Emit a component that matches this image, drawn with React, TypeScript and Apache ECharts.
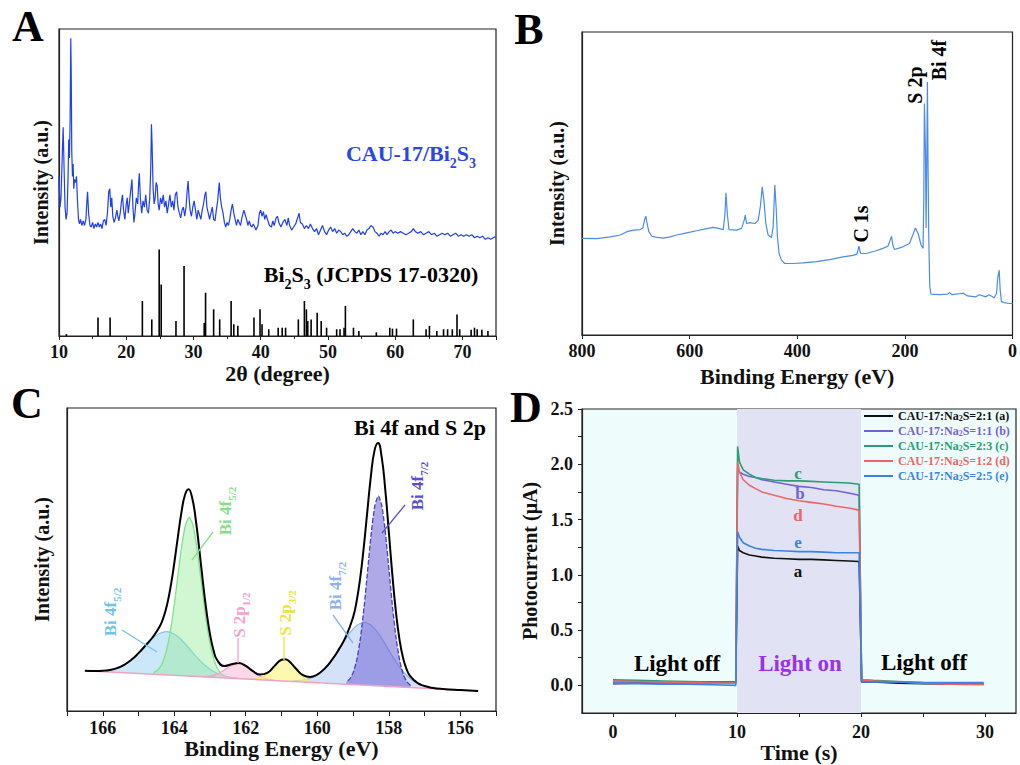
import React, { useEffect, useRef } from 'react';
import * as echarts from 'echarts';

const FF = "'Liberation Serif', 'Times New Roman', serif";

// ---------- Panel A: XRD ----------
const xrdSample: number[][] = [
  [10.0, 52], [10.15, 42], [10.3, 45], [10.5, 60], [10.62, 68], [10.75, 55], [10.9, 42], [11.05, 38], [11.2, 40], [11.35, 52],
  [11.45, 64], [11.55, 58], [11.65, 70], [11.75, 97], [11.82, 85], [11.9, 60], [12.0, 52], [12.1, 56], [12.2, 48], [12.3, 51],
  [12.45, 50], [12.6, 52], [12.75, 44], [12.9, 38], [13.05, 36.5], [13.2, 38], [13.4, 36], [13.6, 37.5], [13.8, 36], [14.0, 38],
  [14.15, 44], [14.25, 47], [14.4, 40], [14.6, 36], [14.8, 35.5], [15.0, 37], [15.2, 35], [15.4, 36.5], [15.6, 35.5], [15.8, 37],
  [16.0, 35.5], [16.2, 36.5], [16.4, 35], [16.6, 37.5], [16.8, 38], [17.0, 36], [17.2, 40], [17.4, 47], [17.55, 48], [17.7, 42],
  [17.85, 45], [18.0, 39], [18.2, 37], [18.4, 38.5], [18.6, 41], [18.75, 39], [18.9, 37.5], [19.1, 40], [19.3, 44], [19.45, 46],
  [19.6, 41], [19.8, 38], [20.0, 43], [20.15, 45], [20.3, 40], [20.5, 44], [20.7, 48], [20.85, 51], [21.0, 42], [21.15, 37],
  [21.3, 40], [21.5, 45], [21.7, 43], [21.85, 50], [21.95, 53], [22.1, 45], [22.3, 40], [22.5, 44], [22.7, 42], [22.9, 46],
  [23.1, 41], [23.3, 40], [23.5, 45], [23.65, 55], [23.75, 69], [23.85, 62], [24.0, 48], [24.15, 43], [24.3, 45], [24.45, 50],
  [24.6, 49], [24.75, 43], [24.9, 41], [25.1, 45], [25.3, 43], [25.5, 46], [25.7, 42], [25.9, 44], [26.1, 40], [26.3, 43],
  [26.5, 46], [26.7, 42], [26.9, 44], [27.1, 41], [27.3, 46], [27.5, 47], [27.7, 42], [27.9, 40], [28.1, 38.5], [28.3, 41],
  [28.5, 42], [28.7, 39], [28.9, 42], [29.05, 47], [29.2, 50.5], [29.35, 45], [29.5, 41], [29.7, 39], [29.9, 42], [30.1, 44],
  [30.3, 41], [30.5, 38], [30.7, 41], [30.9, 39.5], [31.1, 38], [31.3, 41], [31.5, 43], [31.7, 46], [31.85, 47], [32.0, 42],
  [32.2, 40], [32.4, 38], [32.6, 40], [32.8, 42], [33.0, 38], [33.2, 37.5], [33.4, 41], [33.6, 44], [33.75, 48], [33.85, 50],
  [34.0, 45], [34.2, 42], [34.4, 40], [34.6, 37], [34.8, 35.5], [35.0, 37], [35.2, 36], [35.4, 38], [35.6, 41], [35.8, 43],
  [36.0, 40], [36.2, 38], [36.4, 36], [36.6, 38], [36.8, 37], [37.0, 36], [37.2, 38.5], [37.5, 41], [37.7, 39.5], [37.9, 38],
  [38.1, 36], [38.3, 37.5], [38.5, 36], [38.7, 35.5], [38.9, 36.5], [39.1, 35.5], [39.3, 34.5], [39.6, 36], [39.8, 40], [40.0, 41],
  [40.2, 39], [40.4, 40.5], [40.6, 38], [40.8, 39.5], [41.0, 38], [41.3, 36], [41.6, 35.5], [41.8, 37.5], [42.0, 36], [42.3, 38.5],
  [42.5, 39], [42.7, 37], [43.0, 35.5], [43.3, 37], [43.6, 38], [43.9, 36], [44.1, 38.5], [44.3, 36], [44.6, 34.5], [44.9, 35.5],
  [45.2, 36.5], [45.5, 38.5], [45.7, 40], [45.9, 37], [46.2, 36.5], [46.5, 35], [46.8, 36], [47.1, 35], [47.4, 36.5], [47.7, 35],
  [48.0, 34], [48.3, 35], [48.6, 33], [48.9, 34.5], [49.2, 36], [49.5, 34], [49.8, 33], [50.1, 34.5], [50.4, 35.5], [50.7, 34],
  [51.0, 35], [51.3, 33.5], [51.6, 34.5], [51.9, 34], [52.2, 33], [52.5, 33.5], [52.8, 32.5], [53.1, 33], [53.4, 34], [53.7, 35],
  [54.0, 34], [54.3, 33.5], [54.6, 34.5], [54.9, 33], [55.2, 34], [55.5, 33], [55.8, 34.5], [56.1, 35], [56.4, 36], [56.7, 35.5],
  [57.0, 34], [57.3, 33.5], [57.6, 32.5], [57.9, 33.5], [58.2, 33], [58.5, 34], [58.8, 33], [59.1, 34], [59.4, 34.5], [59.7, 33.5],
  [60.0, 34], [60.4, 33.5], [60.8, 34], [61.2, 33.5], [61.6, 33], [62.0, 33.5], [62.4, 34], [62.7, 35], [63.0, 34], [63.4, 33.5],
  [63.8, 34], [64.2, 33], [64.6, 33.5], [65.0, 34], [65.4, 33], [65.8, 33.5], [66.2, 32.5], [66.6, 33], [67.0, 33.5], [67.4, 33],
  [67.8, 33.5], [68.2, 32.5], [68.6, 33], [69.0, 33.5], [69.4, 32.5], [69.8, 33], [70.2, 32.5], [70.6, 33], [71.0, 32.5], [71.4, 33],
  [71.8, 32], [72.2, 32.5], [72.6, 32], [73.0, 32.5], [73.4, 31.5], [73.8, 32], [74.2, 31.5], [74.6, 32], [75.0, 32.5],
];

const jcpdsSticks: number[][] = [
  [11.1, 0.6], [15.8, 6], [17.6, 6], [22.4, 11.4], [23.8, 5.4], [24.9, 28.2], [25.2, 16.8], [27.4, 4.9], [28.6, 22.8],
  [31.6, 4.3], [31.8, 14.1], [33.0, 8.7], [33.9, 5.4], [35.6, 11.4], [36.0, 3.8], [36.6, 3.3], [39.0, 6], [39.9, 8.7],
  [40.2, 3.8], [41.2, 2.2], [42.6, 2.7], [43.2, 2.7], [43.7, 2.7], [45.6, 5.4], [46.5, 11.4], [46.8, 8.7], [47.0, 4.9],
  [47.5, 5.4], [48.4, 7.6], [49.0, 4.9], [49.8, 2.7], [51.3, 2.2], [51.8, 2.2], [52.4, 2.7], [52.6, 9.8], [53.8, 2.7],
  [54.6, 1.6], [57.2, 1.2], [59.2, 2.7], [59.6, 2.4], [60.2, 2.4], [62.7, 5.4], [64.6, 2.2], [65.1, 3.3], [66.2, 1.6],
  [67.2, 2.2], [67.8, 2.2], [68.5, 2.2], [69.2, 7], [69.6, 2.2], [71.3, 2.0], [71.8, 2.7], [72.2, 2.2], [72.9, 2.0], [73.8, 1.6],
];

// ---------- Panel B: XPS survey ----------
const xpsSurvey: number[][] = [
  [800, 31.9], [772.2, 31.8], [747.5, 32.4], [729, 33.0], [716.6, 34.1], [704.2, 34.6], [691.9, 34.8], [686.9, 35.3],
  [683.9, 37.9], [681.4, 39.2], [679, 36.8], [675.8, 34.1], [670.3, 32.6], [661, 32.2], [648.6, 32.0], [636.3, 32.4],
  [623.9, 33.0], [605.4, 33.7], [586.9, 34.4], [568.3, 35.1], [556, 35.5], [546.7, 35.2], [537.4, 34.8], [534.3, 40.1],
  [532.5, 46.9], [530, 40.1], [526.9, 34.8], [512.7, 34.6], [503.4, 35.2], [498.5, 37.9], [496.6, 39.6], [494.1, 36.8],
  [488, 37.1], [478.7, 36.8], [472.5, 37.9], [468.2, 42.9], [465.1, 48.9], [462, 44.5], [458.4, 36.8], [454.1, 33.0],
  [447.9, 32.2], [444.8, 35.7], [441.7, 49.5], [439.3, 42.3], [436.8, 32.4], [433.7, 26.9], [429.4, 24.7], [423.2, 23.6],
  [407.7, 23.6], [389.2, 23.8], [364.4, 24.2], [339.7, 24.9], [315, 25.8], [296.4, 26.3], [289, 26.7], [285.4, 29.3],
  [282.3, 26.9], [271.8, 26.9], [253.3, 27.8], [240.9, 28.6], [231.6, 29.3], [227.3, 31.3], [224.8, 32.6], [222.4, 29.7],
  [219.3, 28.2], [203.8, 29.1], [191.5, 30.2], [185.3, 33.0], [180.4, 35.3], [175.4, 33.5], [169.9, 29.7], [166.2, 28.6],
  [164.9, 44.5], [163.7, 76.4], [161.8, 61], [160.6, 35.3], [159.4, 55.5], [158.1, 83.5], [156.9, 55.5], [155.7, 33.5],
  [153.8, 15.9], [151.4, 13.5], [135.9, 13.3], [120.5, 13.5], [117.3, 14.0], [112.4, 13.3], [95.7, 13.7], [91.4, 13.8],
  [83.4, 12.9], [68, 12.6], [61.8, 13.3], [49.4, 12.6], [43.3, 13.3], [34.1, 12.3], [29.7, 13.7], [27.2, 19.2],
  [24.7, 21.4], [22.9, 14.8], [20.5, 11.0], [15.5, 10.7], [6.2, 10.4], [0, 10.4],
];

// ---------- Panel C: Bi 4f / S 2p fit ([eV, background, component]) ----------
const fitBi52Broad: number[][] = [
  [162.2, 10.68, 0.12], [162.4, 10.80, 0.31], [162.6, 10.92, 0.69], [162.8, 11.05, 1.41], [163.0, 11.17, 2.61],
  [163.2, 11.29, 4.38], [163.4, 11.41, 6.71], [163.6, 11.53, 9.34], [163.8, 11.65, 11.84], [164.0, 11.78, 13.64],
  [164.2, 11.90, 14.3], [164.4, 12.02, 13.64], [164.6, 12.14, 11.84], [164.8, 12.26, 9.34], [165.0, 12.39, 6.71],
  [165.2, 12.51, 4.38], [165.4, 12.63, 2.61], [165.6, 12.75, 1.41], [165.8, 12.87, 0.69], [166.0, 12.99, 0.31], [166.2, 13.11, 0.12],
];
const fitBi52: number[][] = [
  [162.58, 10.91, 0.53], [162.68, 10.97, 1.27], [162.78, 11.03, 2.77], [162.88, 11.09, 5.52], [162.98, 11.15, 10.03],
  [163.08, 11.22, 16.62], [163.18, 11.28, 25.13], [163.28, 11.34, 34.67], [163.38, 11.40, 43.61], [163.48, 11.46, 50.05],
  [163.58, 11.52, 52.4], [163.68, 11.58, 50.05], [163.78, 11.64, 43.61], [163.88, 11.70, 34.67], [163.98, 11.76, 25.13],
  [164.08, 11.82, 16.62], [164.18, 11.88, 10.03], [164.28, 11.95, 5.52], [164.38, 12.01, 2.77], [164.48, 12.07, 1.27], [164.58, 12.13, 0.53],
];
const fitS12: number[][] = [
  [161.2, 10.07, 0.08], [161.4, 10.19, 0.37], [161.6, 10.31, 1.15], [161.8, 10.44, 2.6], [162.0, 10.56, 4.25], [162.2, 10.68, 5.0],
  [162.4, 10.80, 4.25], [162.6, 10.92, 2.6], [162.8, 11.05, 1.15], [163.0, 11.17, 0.37], [163.2, 11.29, 0.08],
];
const fitS32: number[][] = [
  [160.02, 9.35, 0.08], [160.17, 9.44, 0.32], [160.32, 9.53, 0.97], [160.47, 9.62, 2.34], [160.62, 9.72, 4.37], [160.77, 9.81, 6.35],
  [160.92, 9.90, 7.2], [161.07, 9.99, 6.35], [161.22, 10.08, 4.37], [161.37, 10.17, 2.34], [161.52, 10.26, 0.97], [161.67, 10.35, 0.32], [161.82, 10.45, 0.08],
];
const fitBi72Broad: number[][] = [
  [156.68, 7.32, 0.18], [156.88, 7.44, 0.45], [157.08, 7.56, 0.99], [157.28, 7.68, 2.03], [157.48, 7.81, 3.77], [157.68, 7.93, 6.33],
  [157.88, 8.05, 9.71], [158.08, 8.17, 13.52], [158.28, 8.29, 17.14], [158.48, 8.41, 19.75], [158.68, 8.54, 20.7], [158.88, 8.66, 19.75],
  [159.08, 8.78, 17.14], [159.28, 8.90, 13.52], [159.48, 9.02, 9.71], [159.68, 9.15, 6.33], [159.88, 9.27, 3.77], [160.08, 9.39, 2.03],
  [160.28, 9.51, 0.99], [160.48, 9.63, 0.45], [160.68, 9.75, 0.18],
];
const fitBi72: number[][] = [
  [157.39, 7.75, 0.70], [157.49, 7.81, 1.79], [157.59, 7.87, 4.12], [157.69, 7.93, 8.48], [157.79, 7.99, 15.61], [157.89, 8.05, 25.77],
  [157.99, 8.11, 38.03], [158.09, 8.17, 50.22], [158.19, 8.24, 59.31], [158.29, 8.30, 62.7], [158.39, 8.36, 59.31], [158.49, 8.42, 50.22],
  [158.59, 8.48, 38.03], [158.69, 8.54, 25.77], [158.79, 8.60, 15.61], [158.89, 8.66, 8.48], [158.99, 8.72, 4.12], [159.09, 8.78, 1.79], [159.19, 8.84, 0.70],
];
const fitBackground: number[][] = [[155.5, 6.6], [166.5, 13.3]];
const fitEnvelope: number[][] = [
  [155.5, 6.6], [156.0, 6.9], [156.5, 7.29], [156.8, 7.71], [157.0, 8.25], [157.2, 9.28], [157.4, 11.5], [157.5, 13.76],
  [157.6, 17.54], [157.7, 23.65], [157.8, 32.8], [157.9, 45.07], [158.0, 59.41], [158.1, 73.38], [158.2, 83.95], [158.3, 88.41],
  [158.4, 85.86], [158.5, 77.43], [158.6, 65.79], [158.7, 53.89], [158.8, 43.74], [158.9, 36.15], [159.0, 30.88], [159.2, 24.52],
  [159.4, 20.26], [159.6, 16.7], [159.8, 13.91], [160.0, 12.04], [160.2, 11.22], [160.4, 11.82], [160.6, 14.05], [160.8, 16.58],
  [160.9, 17.1], [161.0, 16.91], [161.2, 14.81], [161.4, 12.57], [161.6, 12.02], [161.8, 13.16], [162.0, 14.86], [162.2, 15.81],
  [162.4, 15.45], [162.6, 14.85], [162.8, 16.82], [162.9, 19.99], [163.0, 25.33], [163.1, 33.02], [163.2, 42.75], [163.3, 53.4],
  [163.4, 63.28], [163.5, 70.35], [163.6, 73.17], [163.7, 71.27], [163.8, 65.45], [163.9, 57.33], [164.0, 48.72], [164.1, 41.11],
  [164.2, 35.17], [164.3, 30.94], [164.4, 28.05], [164.6, 24.42], [164.8, 21.65], [165.0, 19.1], [165.2, 16.89], [165.4, 15.24],
  [165.6, 14.16], [165.8, 13.56], [166.0, 13.3], [166.2, 13.23], [166.5, 13.3],
];

// ---------- Panel D: photocurrent ----------
const timeS = [0, 2, 4, 6, 8, 9.9, 10.05, 10.2, 10.5, 11, 11.5, 12, 13, 14, 15, 16, 17, 18, 19, 19.85, 20.05, 21, 23, 25, 27, 29.9];
const curA = [0.015, 0.02, 0.025, 0.025, 0.03, 0.03, 1.26, 1.22, 1.2, 1.18, 1.17, 1.16, 1.15, 1.145, 1.14, 1.14, 1.135, 1.13, 1.125, 1.12, 0.03, 0.03, 0.02, 0.015, 0.012, 0.01];
const curB = [0.03, 0.03, 0.025, 0.02, 0.02, 0.02, 1.96, 1.93, 1.91, 1.89, 1.88, 1.86, 1.84, 1.82, 1.80, 1.79, 1.77, 1.76, 1.74, 1.72, 0.04, 0.035, 0.03, 0.02, 0.015, 0.01];
const curC = [0.05, 0.045, 0.04, 0.035, 0.03, 0.03, 2.16, 2.02, 1.95, 1.91, 1.88, 1.87, 1.855, 1.85, 1.85, 1.845, 1.84, 1.835, 1.83, 1.82, 0.05, 0.045, 0.035, 0.025, 0.02, 0.01];
const curD = [0.04, 0.035, 0.03, 0.025, 0.02, 0.02, 2.02, 1.93, 1.86, 1.81, 1.78, 1.75, 1.72, 1.69, 1.67, 1.655, 1.64, 1.62, 1.605, 1.585, 0.05, 0.04, 0.03, 0.02, 0.01, 0.005];
const curE = [0.02, 0.015, 0.01, 0.01, 0.005, 0.0, 1.39, 1.34, 1.29, 1.26, 1.24, 1.23, 1.22, 1.215, 1.21, 1.21, 1.205, 1.2, 1.2, 1.2, 0.03, 0.03, 0.03, 0.025, 0.025, 0.025];
const dNames = ['CAU-17:Na2S=2:1 (a)', 'CAU-17:Na2S=1:1 (b)', 'CAU-17:Na2S=2:3 (c)', 'CAU-17:Na2S=1:2 (d)', 'CAU-17:Na2S=2:5 (e)'];
const dColors = ['#111111', '#7262d6', '#2a9d72', '#f06464', '#3a82e8'];
const dCurves = [curA, curB, curC, curD, curE];
const dTags = ['a', 'b', 'c', 'd', 'e'];
const yTicksD = [0, 0.5, 1, 1.5, 2, 2.5];
const xTicksD = [0, 10, 20, 30];

// ---------- helpers ----------
const richSub = (fs: number, color: string) => ({
  n: { fontSize: fs, fontWeight: 'bold', fontFamily: FF, fill: color, verticalAlign: 'bottom', padding: [0, 0, Math.round(fs * 0.25), 0] },
  s: { fontSize: Math.round(fs * 0.62), fontWeight: 'bold', fontFamily: FF, fill: color, verticalAlign: 'bottom' },
});

const txt = (x: number, y: number, text: string, color: string, fs: number, rotation = 0, rich?: any): any => ({
  type: 'text', x, y, rotation, z: 100,
  style: {
    text, fill: color, fontSize: fs, fontWeight: 'bold', fontFamily: FF, rich,
    align: 'center', verticalAlign: 'middle', textAlign: 'center', textVerticalAlign: 'middle',
  },
});

const seg = (x1: number, y1: number, x2: number, y2: number, color: string): any => ({
  type: 'line', z: 100, shape: { x1, y1, x2, y2 }, style: { stroke: color, lineWidth: 1.3 },
});

const tickLabel = { fontFamily: FF, fontWeight: 'bold', fontSize: 18, color: '#111' };
const xName = { fontFamily: FF, fontWeight: 'bold', fontSize: 22, color: '#111' };
const yName = { fontFamily: FF, fontWeight: 'bold', fontSize: 20, color: '#111' };
const axLine = { show: true, onZero: false, lineStyle: { color: '#222', width: 1.2 } };

function buildOption(): any {
  const series: any[] = [];

  // A
  series.push({
    type: 'line', xAxisIndex: 0, yAxisIndex: 0, data: xrdSample, symbol: 'none',
    lineStyle: { color: '#1f3ff0', width: 1.2 }, color: '#1f3ff0', z: 3,
  });
  series.push({
    type: 'bar', xAxisIndex: 0, yAxisIndex: 0, data: jcpdsSticks, barWidth: 1.6,
    itemStyle: { color: '#000' }, z: 2,
  });

  // B
  series.push({
    type: 'line', xAxisIndex: 1, yAxisIndex: 1, data: xpsSurvey, symbol: 'none',
    lineStyle: { color: '#4a8ce8', width: 1.2 }, color: '#4a8ce8',
  });

  // C components: filled between background and background+component
  const comps: [number[][], string, string, number[] | null][] = [
    [fitBi52Broad, '#7cc6ec', 'rgba(140,205,240,0.45)', null],
    [fitBi72Broad, '#94b6f0', 'rgba(160,190,242,0.45)', null],
    [fitBi52, '#84e08c', 'rgba(150,235,155,0.45)', null],
    [fitS12, '#f2a2cc', 'rgba(248,185,215,0.55)', null],
    [fitS32, '#f2ec58', 'rgba(250,245,120,0.6)', null],
    [fitBi72, '#4a3ec8', 'rgba(110,100,212,0.55)', [5, 2]],
  ];
  comps.forEach(([arr, line, fill, dash]) => {
    series.push({
      type: 'custom', xAxisIndex: 2, yAxisIndex: 2, coordinateSystem: 'cartesian2d', silent: true, z: 2,
      data: arr.map((p) => [p[0], p[1] + p[2]]),
      encode: { x: 0, y: 1 },
      renderItem: (params: any, api: any) => {
        if (params.dataIndex !== 0) return null;
        const top = arr.map((p) => api.coord([p[0], p[1] + p[2]]));
        const bot = arr.slice().reverse().map((p) => api.coord([p[0], p[1]]));
        return {
          type: 'group',
          children: [
            { type: 'polygon', shape: { points: top.concat(bot) }, style: { fill, stroke: 'none' } },
            {
              type: 'polyline', shape: { points: top, smooth: 0.2 },
              style: { stroke: line, lineWidth: 1.3, fill: 'none', lineDash: dash || undefined },
            },
          ],
        };
      },
    });
  });
  series.push({
    type: 'line', xAxisIndex: 2, yAxisIndex: 2, data: fitBackground, symbol: 'none',
    lineStyle: { color: '#f0a2c6', width: 1.5 }, z: 3,
  });
  series.push({
    type: 'line', xAxisIndex: 2, yAxisIndex: 2, data: fitEnvelope, symbol: 'none', smooth: true,
    lineStyle: { color: '#000', width: 2 }, color: '#000', z: 4,
  });

  // D
  series.push({
    type: 'line', xAxisIndex: 3, yAxisIndex: 3, data: [], silent: true, z: 1,
    markArea: { silent: true, itemStyle: { color: '#e1e3f5' }, data: [[{ xAxis: 10 }, { xAxis: 20 }]] },
  });
  dCurves.forEach((cur, i) => {
    series.push({
      name: dNames[i], type: 'line', xAxisIndex: 3, yAxisIndex: 3, symbol: 'none', z: 3,
      data: timeS.map((t, k) => [t, cur[k]]), color: dColors[i],
      lineStyle: { color: dColors[i], width: 1.6 },
    });
  });

  const graphic: any[] = [
    txt(28, 26, 'A', '#000', 44),
    txt(529, 29, 'B', '#000', 44),
    txt(27, 403, 'C', '#000', 44),
    txt(526, 407, 'D', '#000', 44),
    // A
    txt(411, 156, '{n|CAU-17/Bi}{s|2}{n|S}{s|3}', '#2b45e6', 22, 0, richSub(22, '#2b45e6')),
    txt(371, 277, '{n|Bi}{s|2}{n|S}{s|3}{n| (JCPDS 17-0320)}', '#000', 22, 0, richSub(22, '#000')),
    // B
    txt(861, 224, 'C 1s', '#000', 20, Math.PI / 2),
    txt(915, 85, 'S 2p', '#000', 20, Math.PI / 2),
    txt(939, 60, 'Bi 4f', '#000', 20, Math.PI / 2),
    // C
    txt(420, 427, 'Bi 4f and S 2p', '#000', 22),
    txt(112, 612, '{n|Bi 4f}{s|5/2}', '#74c2ea', 17, Math.PI / 2, richSub(17, '#74c2ea')),
    txt(227, 511, '{n|Bi 4f}{s|5/2}', '#86e08a', 17, Math.PI / 2, richSub(17, '#86e08a')),
    txt(241, 615, '{n|S 2p}{s|1/2}', '#f2a2cc', 17, Math.PI / 2, richSub(17, '#f2a2cc')),
    txt(287, 613, '{n|S 2p}{s|3/2}', '#ece43c', 17, Math.PI / 2, richSub(17, '#ece43c')),
    txt(337, 586, '{n|Bi 4f}{s|7/2}', '#8cb2f0', 17, Math.PI / 2, richSub(17, '#8cb2f0')),
    txt(419, 486, '{n|Bi 4f}{s|7/2}', '#5a4ed0', 17, Math.PI / 2, richSub(17, '#5a4ed0')),
    seg(122, 630, 157, 652, '#74c2ea'),
    seg(213, 532, 192, 560, '#86e08a'),
    seg(238, 638, 238, 663, '#f2a2cc'),
    seg(284, 637, 284, 660, '#ece43c'),
    seg(333, 615, 353, 643, '#8cb2f0'),
    seg(405, 505, 382, 533, '#5a4ed0'),
    // D
    txt(677, 663, 'Light off', '#000', 23),
    txt(800, 663, 'Light on', '#9a32ec', 23),
    txt(924, 662, 'Light off', '#000', 23),
  ];
  const tagPos = [[798, 571], [800, 493], [798, 473], [798, 515], [798, 542]];
  dTags.forEach((t, i) => graphic.push(txt(tagPos[i][0], tagPos[i][1], t, dColors[i], 17)));

  return {
    animation: false,
    backgroundColor: '#fff',
    textStyle: { fontFamily: FF },
    grid: [
      { left: 59, top: 29, width: 437, height: 307, show: true, borderColor: '#222', borderWidth: 1.2 },
      { left: 582, top: 32, width: 431, height: 303, show: true, borderColor: '#222', borderWidth: 1.2 },
      { left: 67, top: 408, width: 429, height: 303, show: true, borderColor: '#222', borderWidth: 1.2 },
      { left: 582, top: 409, width: 434, height: 304, show: true, borderColor: '#222', borderWidth: 1.2, backgroundColor: '#effcfc' },
    ],
    xAxis: [
      {
        gridIndex: 0, type: 'value', min: 10, max: 75, interval: 10,
        axisLine: axLine, axisTick: { length: 4, lineStyle: { color: '#222' } },
        minorTick: { show: true, splitNumber: 2, length: 3, lineStyle: { color: '#222' } },
        splitLine: { show: false },
        axisLabel: { ...tickLabel, margin: 7, formatter: (v: number) => (v % 10 === 0 ? String(v) : '') },
        name: '2θ (degree)', nameLocation: 'middle', nameGap: 26, nameTextStyle: xName,
      },
      {
        gridIndex: 1, type: 'value', min: 0, max: 800, interval: 200, inverse: true,
        axisLine: axLine, axisTick: { length: 4, lineStyle: { color: '#222' } }, splitLine: { show: false },
        axisLabel: { ...tickLabel, margin: 7 },
        name: 'Binding Energy (eV)', nameLocation: 'middle', nameGap: 30, nameTextStyle: xName,
      },
      {
        gridIndex: 2, type: 'value', min: 155, max: 167, interval: 1, inverse: true,
        axisLine: axLine, axisTick: { length: 5, lineStyle: { color: '#222' } }, splitLine: { show: false },
        axisLabel: { ...tickLabel, margin: 8, formatter: (v: number) => (Math.round(v) % 2 === 0 ? String(v) : '') },
        name: 'Binding Energy (eV)', nameLocation: 'middle', nameGap: 26, nameTextStyle: xName,
      },
      {
        gridIndex: 3, type: 'value', min: -2.5, max: 32.5,
        axisLine: axLine, splitLine: { show: false },
        axisTick: { length: 4, customValues: [0, 5, 10, 15, 20, 25, 30], lineStyle: { color: '#222' } },
        axisLabel: { ...tickLabel, margin: 10, customValues: xTicksD },
        name: 'Time (s)', nameLocation: 'middle', nameGap: 27, nameTextStyle: xName,
      },
    ],
    yAxis: [
      {
        gridIndex: 0, type: 'value', min: 0, max: 100,
        axisLine: axLine, axisTick: { show: false }, axisLabel: { show: false }, splitLine: { show: false },
        name: 'Intensity (a.u.)', nameLocation: 'middle', nameRotate: 90, nameGap: 8, nameTextStyle: yName,
      },
      {
        gridIndex: 1, type: 'value', min: 0, max: 100,
        axisLine: axLine, axisTick: { show: false }, axisLabel: { show: false }, splitLine: { show: false },
        name: 'Intensity (a.u.)', nameLocation: 'middle', nameRotate: 90, nameGap: 15, nameTextStyle: yName,
      },
      {
        gridIndex: 2, type: 'value', min: 0, max: 100,
        axisLine: axLine, axisTick: { show: false }, axisLabel: { show: false }, splitLine: { show: false },
        name: 'Intensity (a.u.)', nameLocation: 'middle', nameRotate: 90, nameGap: 15, nameTextStyle: yName,
      },
      {
        gridIndex: 3, type: 'value', min: -0.25, max: 2.5,
        axisLine: axLine, splitLine: { show: false },
        axisTick: { length: 4, customValues: [0, 0.25, 0.5, 0.75, 1, 1.25, 1.5, 1.75, 2, 2.25, 2.5], lineStyle: { color: '#222' } },
        axisLabel: { ...tickLabel, margin: 9, customValues: yTicksD, formatter: (v: number) => v.toFixed(1) },
        name: 'Photocurrent (μA)', nameLocation: 'middle', nameRotate: 90, nameGap: 42, nameTextStyle: yName,
      },
    ],
    legend: {
      left: 864, top: 410, orient: 'vertical', itemWidth: 29, itemHeight: 2, itemGap: 3, icon: 'rect', padding: 0,
      textStyle: {
        fontFamily: FF, fontWeight: 'bold', fontSize: 12,
        rich: { sub: { fontFamily: FF, fontWeight: 'bold', fontSize: 8, verticalAlign: 'bottom' } },
      },
      formatter: (name: string) => name.replace('Na2S', 'Na{sub|2}S'),
      data: dNames.map((n, i) => ({ name: n, textStyle: { color: dColors[i] }, itemStyle: { color: dColors[i] } })),
    },
    series,
    graphic,
  };
}

export default function App() {
  const ref = useRef<HTMLDivElement>(null);
  useEffect(() => {
    const chart = echarts.init(ref.current!, null, { renderer: 'svg' });
    chart.setOption(buildOption());
    return () => chart.dispose();
  }, []);
  return (
    <div
      ref={ref}
      style={{ position: 'fixed', left: 0, top: 0, width: 1020, height: 765, background: '#fff' }}
    />
  );
}
